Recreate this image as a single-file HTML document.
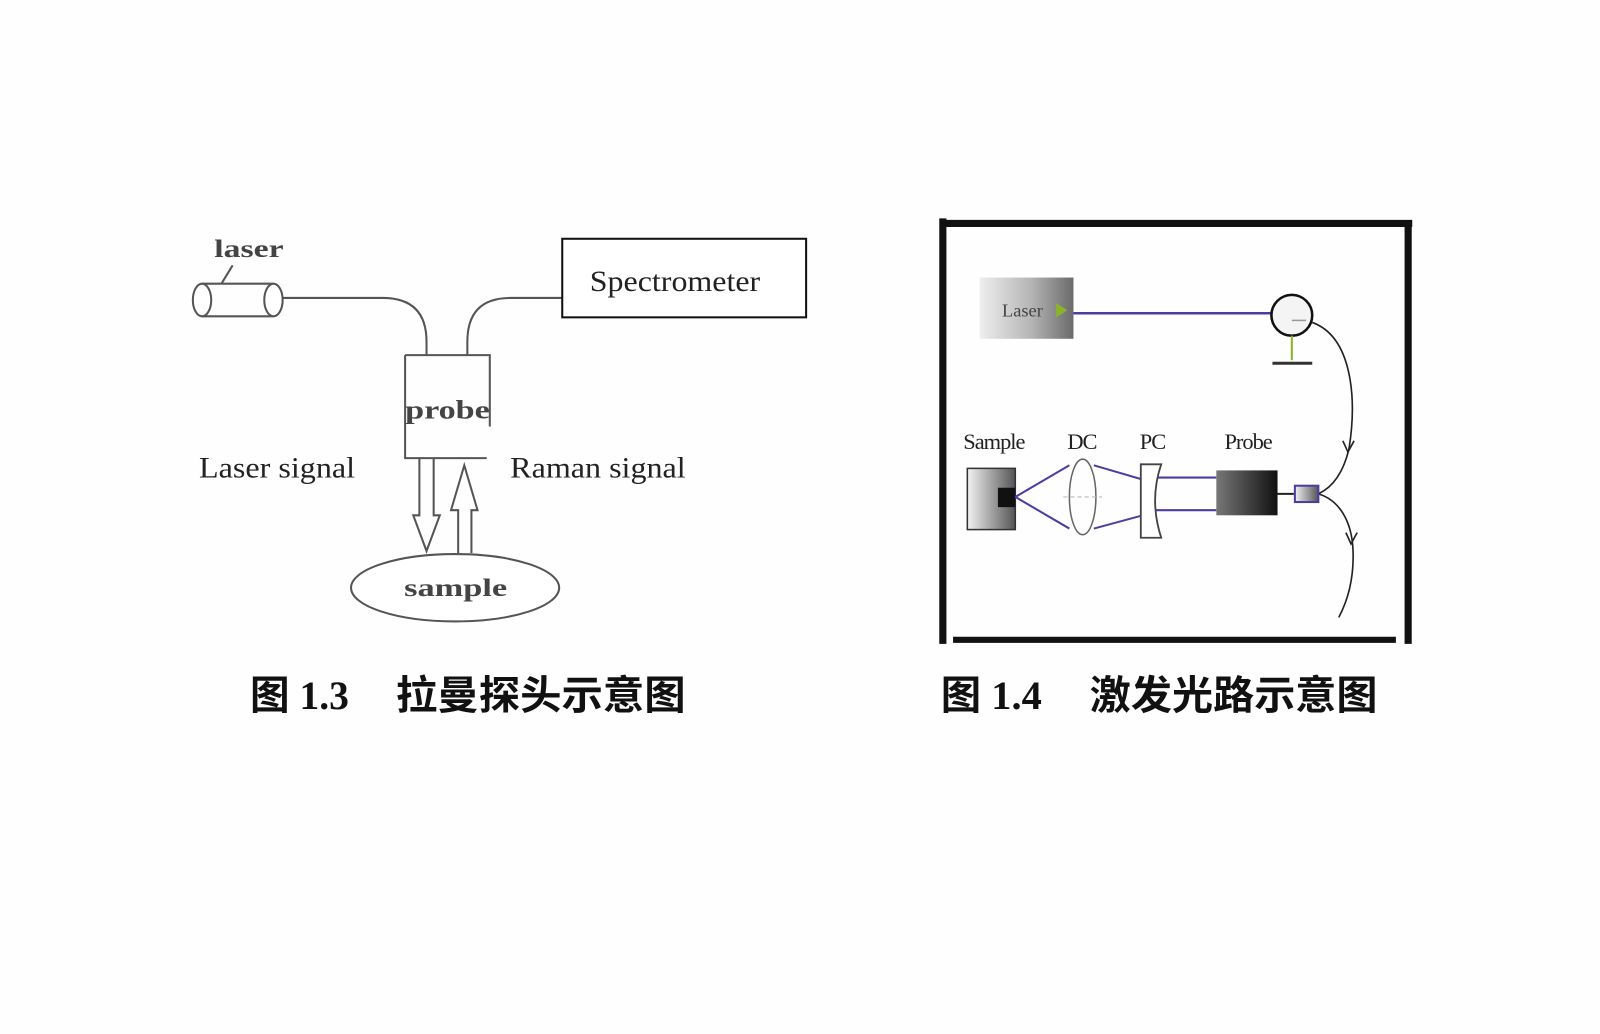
<!DOCTYPE html>
<html><head><meta charset="utf-8"><style>
html,body{margin:0;padding:0;background:#fefefe;width:1600px;height:1034px;overflow:hidden}
svg{display:block}
</style></head><body>
<svg width="1600" height="1034" viewBox="0 0 1600 1034" xmlns="http://www.w3.org/2000/svg">
<defs>
<linearGradient id="lg" x1="0" x2="1"><stop offset="0" stop-color="#eee"/><stop offset="0.55" stop-color="#b5b5b5"/><stop offset="1" stop-color="#6a6a6a"/></linearGradient>
<linearGradient id="sg" x1="0" x2="1"><stop offset="0" stop-color="#f2f2f2"/><stop offset="1" stop-color="#555"/></linearGradient>
<linearGradient id="pg" x1="0" x2="1"><stop offset="0" stop-color="#777"/><stop offset="1" stop-color="#111"/></linearGradient>
</defs>
<g transform="scale(1.0204)">
<!-- LEFT DIAGRAM -->
<g fill="none" stroke="#555" stroke-width="2">
<path d="M198 278 H268 M198 310 H268"/>
<ellipse cx="198" cy="294" rx="9" ry="16" fill="#fff"/>
<ellipse cx="268" cy="294" rx="9" ry="16" fill="#fff"/>
<path d="M217 278 L228 260"/>
<path d="M277 292 H375 Q418 292 418 335 V348"/>
<path d="M458 348 V335 Q458 292 500 292 H551"/>
<path d="M397 348 H480 V418 M397 348 V449 H477"/>
<path d="M411 449 V505 H405 L418 540 L431 505 H425 V449"/>
<path d="M449 542 V500 H442 L455 456 L468 500 H462 V542"/>
<ellipse cx="446" cy="576" rx="102" ry="33" fill="#fff"/>
</g>
<rect x="551" y="234" width="239" height="77" fill="#fff" stroke="#111" stroke-width="2"/>
<g font-family="Liberation Serif, serif" fill="#222">
<text x="210" y="252" font-size="25" font-weight="bold" fill="#444" textLength="68" lengthAdjust="spacingAndGlyphs">laser</text>
<text x="578" y="285" font-size="29" textLength="167" lengthAdjust="spacingAndGlyphs">Spectrometer</text>
<text x="397" y="410" font-size="26" font-weight="bold" fill="#444" textLength="83" lengthAdjust="spacingAndGlyphs">probe</text>
<text x="195" y="468" font-size="29" textLength="153" lengthAdjust="spacingAndGlyphs">Laser signal</text>
<text x="500" y="468" font-size="29" textLength="172" lengthAdjust="spacingAndGlyphs">Raman signal</text>
<text x="396" y="584" font-size="25" font-weight="bold" fill="#444" textLength="101" lengthAdjust="spacingAndGlyphs">sample</text>
</g>
<!-- RIGHT DIAGRAM -->
<g stroke="#111" stroke-linecap="butt">
<line x1="924" y1="214" x2="924" y2="631" stroke-width="7"/>
<line x1="921" y1="219" x2="1384" y2="219" stroke-width="7"/>
<line x1="1380" y1="216" x2="1380" y2="631" stroke-width="7"/>
<line x1="934" y1="627" x2="1368" y2="627" stroke-width="6"/>
</g>
<rect x="960" y="272" width="92" height="60" fill="url(#lg)"/>
<text x="982" y="310" font-family="Liberation Serif, serif" font-size="18" fill="#444">Laser</text>
<polygon points="1035,297 1046,304 1035,311" fill="#8ab32a"/>
<line x1="1052" y1="307" x2="1246" y2="307" stroke="#4a3fa0" stroke-width="2.5"/>
<circle cx="1266" cy="309" r="20" fill="#f4f4f4" stroke="#111" stroke-width="2.5"/>
<line x1="1266" y1="314" x2="1280" y2="314" stroke="#999" stroke-width="1.5"/>
<line x1="1266" y1="329" x2="1266" y2="353" stroke="#8ab32a" stroke-width="2"/>
<line x1="1247" y1="356" x2="1286" y2="356" stroke="#333" stroke-width="3"/>
<g fill="none" stroke="#222" stroke-width="1.6">
<path d="M1286 316 C1325 330 1330 390 1322 440 C1316 465 1305 478 1292 484"/>
<path d="M1316 432 L1321 443 L1327 432"/>
<path d="M1292 484 C1312 490 1325 510 1326 540 C1327 570 1320 590 1312 605"/>
<path d="M1319 522 L1324 533 L1330 522"/>
</g>
<g font-family="Liberation Serif, serif" font-size="22" fill="#222" letter-spacing="-1">
<text x="944" y="440">Sample</text>
<text x="1046" y="440">DC</text>
<text x="1117" y="440">PC</text>
<text x="1200" y="440">Probe</text>
</g>
<rect x="948" y="459" width="47" height="60" fill="url(#sg)" stroke="#333" stroke-width="1.5"/>
<rect x="978" y="478" width="17" height="19" fill="#111"/>
<g stroke="#4a3fa0" stroke-width="2" fill="none">
<path d="M995 487 L1048 456 M995 487 L1048 518 M1072 456 L1120 470 M1072 518 L1120 505 M1132 468 H1192 M1132 500 H1192"/>
</g>
<ellipse cx="1061" cy="487" rx="13" ry="37" fill="none" stroke="#666" stroke-width="1.5"/>
<line x1="1042" y1="487" x2="1080" y2="487" stroke="#bbb" stroke-width="1" stroke-dasharray="4 3"/>
<path d="M1118 455 H1138 Q1126 490 1138 527 H1118 Z" fill="#fff" stroke="#444" stroke-width="1.8"/>
<rect x="1192" y="461" width="60" height="44" fill="url(#pg)"/>
<line x1="1252" y1="484" x2="1268" y2="484" stroke="#222" stroke-width="2"/>
<rect x="1269" y="476" width="23" height="16" fill="url(#sg)" stroke="#4a3fa0" stroke-width="2"/>
<!-- CAPTIONS -->
<g font-family="'Liberation Serif', 'Noto Sans CJK SC', serif" font-weight="bold" font-size="39" fill="#111">
<text x="245" y="695" textLength="97" lengthAdjust="spacingAndGlyphs">图 1.3</text>
<text x="388" y="695" textLength="284" lengthAdjust="spacingAndGlyphs">拉曼探头示意图</text>
<text x="922" y="695" textLength="99" lengthAdjust="spacingAndGlyphs">图 1.4</text>
<text x="1068" y="695" textLength="282" lengthAdjust="spacingAndGlyphs">激发光路示意图</text>
</g>
</g>
</svg>
</body></html>
